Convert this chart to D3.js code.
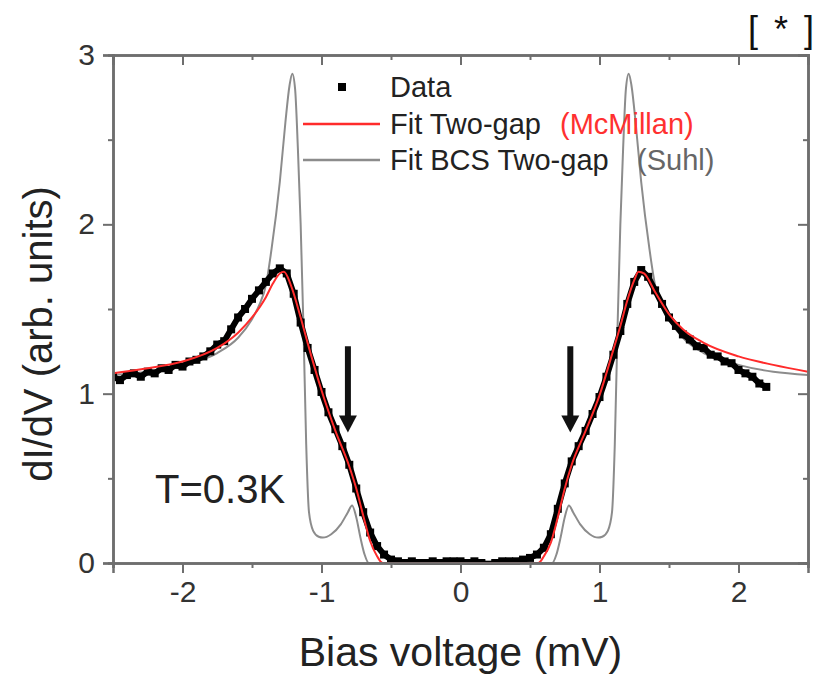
<!DOCTYPE html>
<html>
<head>
<meta charset="utf-8">
<script src="https://cdn.jsdelivr.net/npm/d3@7/dist/d3.min.js"></script>
<style>
  html, body { margin: 0; padding: 0; background: #fff; }
  svg { display: block; }
  text { font-family: "Liberation Sans", Arial, sans-serif; }
</style>
</head>
<body>
<svg id="chart" width="829" height="678"></svg>
<script>
// Measured tunnelling conductance, bias in mV
const dataPts = [
  [-2.50, 1.10], [-2.45, 1.08], [-2.40, 1.11], [-2.35, 1.12], [-2.30, 1.10],
  [-2.25, 1.13], [-2.20, 1.12], [-2.15, 1.15], [-2.10, 1.14], [-2.05, 1.17],
  [-2.00, 1.16], [-1.95, 1.19], [-1.90, 1.20], [-1.85, 1.22], [-1.80, 1.25],
  [-1.75, 1.29], [-1.70, 1.31], [-1.65, 1.38], [-1.60, 1.45], [-1.55, 1.50],
  [-1.50, 1.56], [-1.45, 1.61], [-1.40, 1.66], [-1.35, 1.71], [-1.30, 1.74],
  [-1.25, 1.71], [-1.20, 1.59], [-1.15, 1.42], [-1.10, 1.27], [-1.05, 1.14],
  [-1.00, 1.01], [-0.95, 0.89], [-0.90, 0.79], [-0.85, 0.69], [-0.80, 0.58],
  [-0.75, 0.44], [-0.70, 0.30], [-0.65, 0.18], [-0.60, 0.10], [-0.55, 0.05],
  [-0.50, 0.02], [-0.45, 0.01], [-0.40, 0.00], [-0.35, 0.01], [-0.30, 0.00],
  [-0.25, 0.00], [-0.20, 0.01], [-0.15, 0.00], [-0.10, 0.01], [-0.05, 0.01],
  [0.00, 0.01], [0.05, 0.00], [0.10, 0.01], [0.15, 0.00], [0.20, -0.01],
  [0.25, 0.00], [0.30, 0.01], [0.35, 0.01], [0.40, 0.01], [0.45, 0.02],
  [0.50, 0.03], [0.55, 0.05], [0.60, 0.09], [0.65, 0.17], [0.70, 0.32],
  [0.75, 0.47], [0.80, 0.60], [0.85, 0.69], [0.90, 0.78], [0.95, 0.88],
  [1.00, 0.98], [1.05, 1.10], [1.10, 1.23], [1.15, 1.37], [1.20, 1.53],
  [1.25, 1.66], [1.30, 1.73], [1.35, 1.69], [1.40, 1.61], [1.45, 1.53],
  [1.50, 1.45], [1.55, 1.40], [1.60, 1.35], [1.65, 1.32], [1.70, 1.28],
  [1.75, 1.27], [1.80, 1.23], [1.85, 1.22], [1.90, 1.19], [1.95, 1.18],
  [2.00, 1.14], [2.05, 1.12], [2.10, 1.10], [2.15, 1.06], [2.20, 1.04]
];

// Two-gap fit with proximity (McMillan) model
const mcmillanFit = [
  [-2.50, 1.12], [-2.25, 1.15], [-2.00, 1.19], [-1.75, 1.27], [-1.60, 1.36],
  [-1.50, 1.45], [-1.40, 1.57], [-1.35, 1.65], [-1.30, 1.71], [-1.27, 1.72],
  [-1.22, 1.64], [-1.15, 1.45], [-1.10, 1.30], [-1.00, 1.02], [-0.90, 0.78],
  [-0.80, 0.57], [-0.75, 0.44], [-0.70, 0.28], [-0.65, 0.13], [-0.60, 0.04],
  [-0.56, 0.00], [0.00, 0.00], [0.56, 0.00], [0.60, 0.04], [0.65, 0.12],
  [0.70, 0.27], [0.75, 0.44], [0.80, 0.58], [0.90, 0.78], [1.00, 0.99],
  [1.10, 1.26], [1.15, 1.40], [1.20, 1.55], [1.25, 1.67], [1.28, 1.72],
  [1.32, 1.71], [1.40, 1.60], [1.50, 1.47], [1.60, 1.38], [1.75, 1.30],
  [2.00, 1.22], [2.25, 1.17], [2.50, 1.13]
];

// Two-gap BCS fit (Suhl model)
const bcsFit = [
  [-2.50, 1.11], [-2.00, 1.17], [-1.75, 1.24], [-1.60, 1.33], [-1.50, 1.44],
  [-1.45, 1.52], [-1.40, 1.64], [-1.36, 1.85], [-1.30, 2.25], [-1.26, 2.60],
  [-1.23, 2.82], [-1.21, 2.89], [-1.19, 2.80], [-1.17, 2.45], [-1.15, 2.00],
  [-1.13, 1.40], [-1.11, 0.70], [-1.09, 0.30], [-1.06, 0.19], [-1.02, 0.155],
  [-0.99, 0.15], [-0.93, 0.17], [-0.86, 0.23], [-0.81, 0.30], [-0.78, 0.34],
  [-0.75, 0.27], [-0.72, 0.15], [-0.69, 0.05], [-0.66, 0.00], [0.00, 0.00],
  [0.66, 0.00], [0.69, 0.05], [0.72, 0.15], [0.75, 0.27], [0.78, 0.34],
  [0.81, 0.30], [0.86, 0.23], [0.93, 0.17], [0.99, 0.15], [1.02, 0.155],
  [1.06, 0.19], [1.09, 0.30], [1.11, 0.70], [1.13, 1.40], [1.15, 2.00],
  [1.17, 2.45], [1.19, 2.80], [1.21, 2.89], [1.23, 2.82], [1.26, 2.60],
  [1.30, 2.25], [1.36, 1.85], [1.40, 1.64], [1.45, 1.52], [1.50, 1.44],
  [1.60, 1.33], [1.75, 1.24], [2.00, 1.17], [2.50, 1.11]
];

// Arrows marking the second (small) gap
const arrowMarks = [
  { v: -0.81, from: 1.28, to: 0.77 },
  { v: 0.79, from: 1.28, to: 0.77 }
];

const xMajorTicks = [-2, -1, 0, 1, 2];
const xMinorTicks = [-2.5, -1.5, -0.5, 0.5, 1.5, 2.5];
const yMajorTicks = [0, 1, 2, 3];
const yMinorTicks = [0.5, 1.5, 2.5];

const legendItems = [
  { kind: "point", label: "Data", note: "", noteColor: "" },
  { kind: "mcmillan", label: "Fit Two-gap", note: "(McMillan)", noteColor: "#ff3030" },
  { kind: "bcs", label: "Fit BCS Two-gap", note: "(Suhl)", noteColor: "#666666" }
];

const colors = { data: "#000", mcmillan: "#ff2b2b", bcs: "#8c8c8c", axis: "#6e6e6e", text: "#222" };

const svg = d3.select("#chart");
const plot = { left: 113, right: 808, top: 55, bottom: 563 };

const x = d3.scaleLinear().domain([-2.5, 2.5]).range([plot.left, plot.right]);
const y = d3.scaleLinear().domain([0, 3]).range([plot.bottom, plot.top]);

svg.append("defs").append("clipPath").attr("id", "plotclip")
  .append("rect")
  .attr("x", plot.left).attr("y", plot.top - 2)
  .attr("width", plot.right - plot.left).attr("height", plot.bottom - plot.top + 4);

const lineGen = d3.line().x(d => x(d[0])).y(d => y(d[1])).curve(d3.curveMonotoneX);

const curves = svg.append("g").attr("clip-path", "url(#plotclip)");

// BCS fit underneath
curves.append("path").datum(bcsFit)
  .attr("d", lineGen).attr("fill", "none")
  .attr("stroke", colors.bcs).attr("stroke-width", 2);

// data: dense square markers joined into a thick trace
curves.append("path").datum(dataPts)
  .attr("d", d3.line().x(d => x(d[0])).y(d => y(d[1])))
  .attr("fill", "none").attr("stroke", colors.data)
  .attr("stroke-width", 6).attr("stroke-linejoin", "round");
curves.selectAll("rect.pt").data(dataPts).join("rect")
  .attr("class", "pt")
  .attr("x", d => x(d[0]) - 4).attr("y", d => y(d[1]) - 4)
  .attr("width", 8).attr("height", 8).attr("fill", colors.data);

// McMillan fit on top
curves.append("path").datum(mcmillanFit)
  .attr("d", lineGen).attr("fill", "none")
  .attr("stroke", colors.mcmillan).attr("stroke-width", 2);

// Axes on all four sides
const axisG = svg.append("g");
const tickSize = { major: 10, minor: 5 };

const bottomAxis = d3.axisBottom(x).tickValues(xMajorTicks).tickSize(tickSize.major).tickFormat(d3.format("d")).tickPadding(8);
const bottomMinor = d3.axisBottom(x).tickValues(xMinorTicks).tickSize(tickSize.minor).tickFormat("");
const topAxis = d3.axisBottom(x).tickValues(xMajorTicks).tickSize(tickSize.major).tickFormat("");
const topMinor = d3.axisBottom(x).tickValues(xMinorTicks).tickSize(tickSize.minor).tickFormat("");
const leftAxis = d3.axisLeft(y).tickValues(yMajorTicks).tickSize(tickSize.major).tickFormat(d3.format("d")).tickPadding(8);
const leftMinor = d3.axisLeft(y).tickValues(yMinorTicks).tickSize(tickSize.minor).tickFormat("");
const rightAxis = d3.axisLeft(y).tickValues(yMajorTicks).tickSize(tickSize.major).tickFormat("");
const rightMinor = d3.axisLeft(y).tickValues(yMinorTicks).tickSize(tickSize.minor).tickFormat("");

function styleAxis(g) {
  g.selectAll("path.domain").attr("stroke", colors.axis).attr("stroke-width", 2.5);
  g.selectAll(".tick line").attr("stroke", colors.axis).attr("stroke-width", 2);
  g.selectAll(".tick text").attr("fill", "#333").attr("font-size", 30)
    .attr("font-family", "Liberation Sans, Arial, sans-serif");
}

axisG.append("g").attr("transform", `translate(0,${plot.bottom})`).call(bottomAxis).call(styleAxis);
axisG.append("g").attr("transform", `translate(0,${plot.bottom})`).call(bottomMinor).call(styleAxis);
axisG.append("g").attr("transform", `translate(0,${plot.top})`).call(topAxis).call(styleAxis);
axisG.append("g").attr("transform", `translate(0,${plot.top})`).call(topMinor).call(styleAxis);
axisG.append("g").attr("transform", `translate(${plot.left},0)`).call(leftAxis).call(styleAxis);
axisG.append("g").attr("transform", `translate(${plot.left},0)`).call(leftMinor).call(styleAxis);
axisG.append("g").attr("transform", `translate(${plot.right},0)`).call(rightAxis).call(styleAxis);
axisG.append("g").attr("transform", `translate(${plot.right},0)`).call(rightMinor).call(styleAxis);

// tick labels use a plain hyphen for negatives
axisG.selectAll(".tick text").text(function () { return d3.select(this).text().replace("\u2212", "-"); });

// Axis titles
svg.append("text")
  .attr("x", x(0)).attr("y", 666)
  .attr("text-anchor", "middle").attr("font-size", 41).attr("fill", colors.text)
  .text("Bias voltage (mV)");

svg.append("text")
  .attr("transform", `translate(52,${(plot.top + plot.bottom) / 2 + 25}) rotate(-90)`)
  .attr("text-anchor", "middle").attr("font-size", 40).attr("fill", colors.text)
  .text("dI/dV (arb. units)");

// Temperature annotation
svg.append("text")
  .attr("x", 155).attr("y", 503)
  .attr("font-size", 40).attr("fill", colors.text)
  .text("T=0.3K");

// Corner mark
svg.append("text")
  .attr("x", 748).attr("y", 42)
  .attr("font-size", 36).attr("fill", "#111")
  .attr("textLength", 66).attr("lengthAdjust", "spacing")
  .text("[ * ]");

// Arrows
arrowMarks.forEach(a => {
  const ax = x(a.v), y0 = y(a.from), y1 = y(a.to);
  svg.append("line")
    .attr("x1", ax).attr("x2", ax).attr("y1", y0).attr("y2", y1 - 14)
    .attr("stroke", "#111").attr("stroke-width", 6);
  svg.append("path")
    .attr("d", `M${ax - 9},${y1 - 17} L${ax + 9},${y1 - 17} L${ax},${y1} Z`)
    .attr("fill", "#111");
});

// Legend
const legend = svg.append("g");
const rowY = [87, 124, 160];
legendItems.forEach((item, i) => {
  const ry = rowY[i];
  if (item.kind === "point") {
    legend.append("rect").attr("x", 338).attr("y", ry - 4).attr("width", 8).attr("height", 8).attr("fill", colors.data);
  } else {
    legend.append("line").attr("x1", 303).attr("x2", 380).attr("y1", ry).attr("y2", ry)
      .attr("stroke", item.kind === "mcmillan" ? colors.mcmillan : colors.bcs).attr("stroke-width", 2.5);
  }
  legend.append("text").attr("x", 390).attr("y", ry + 10)
    .attr("font-size", 29).attr("fill", colors.text).text(item.label);
  if (item.note) {
    legend.append("text").attr("x", i === 1 ? 560 : 637).attr("y", ry + 10)
      .attr("font-size", 29).attr("fill", item.noteColor).text(item.note);
  }
});
</script>
</body>
</html>
